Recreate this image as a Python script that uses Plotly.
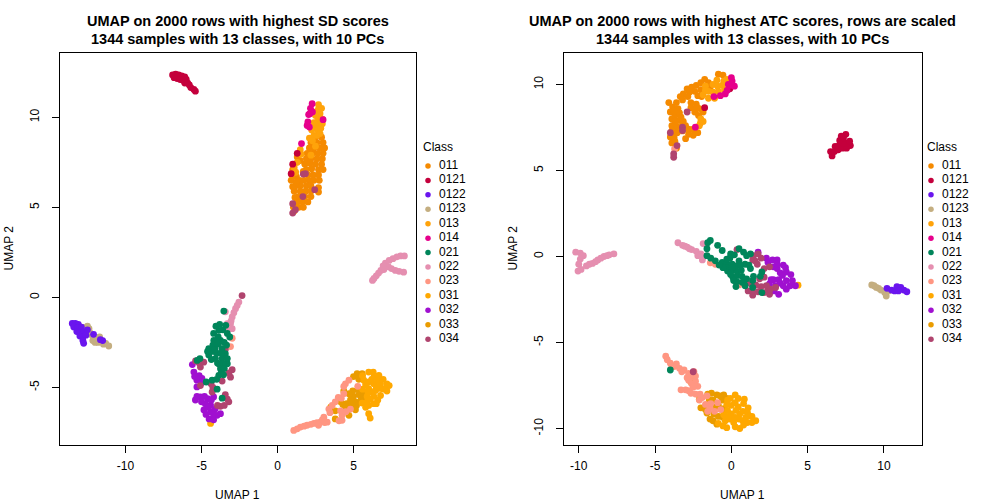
import plotly.graph_objects as go

CLASSES = ["011","0121","0122","0123","013","014","021","022","023","031","032","033","034"]
COLORS = ["#F58A00","#C4003C","#6A15EE","#C4AE80","#FFA30A","#E6008C","#00855A","#E58FB0","#FF9682","#FFA800","#A010D0","#EA9C00","#B0446E"]

# ---------- left panel values (UMAP 1, UMAP 2) ----------
L_011 = [(2.5,8.9),(2.9,8.9),(2.2,8.6),(2.6,8.6),(3.0,8.6),(2.1,8.3),(2.4,8.3),(2.8,8.3),(3.1,8.3),(1.95,8.0),(2.3,8.0),(2.65,8.0),(3.0,8.0),
 (1.9,7.7),(2.2,7.7),(2.6,7.7),(2.95,7.7),(1.8,7.4),(2.15,7.45),(2.5,7.4),(2.9,7.4),(1.9,7.1),(2.25,7.15),(2.7,7.1),(3.0,7.1),(2.0,6.8),(2.35,6.8),(2.7,6.8),(2.1,6.5),(2.4,6.5),(2.75,6.5),
 (1.2,6.2),(1.5,6.2),(1.9,6.2),(2.2,6.2),(2.7,6.1),(1.1,5.9),(1.5,5.9),(1.85,5.9),(2.2,5.9),(2.7,5.85),(1.4,5.6),(1.8,5.6),(2.2,5.6),(1.3,5.3),(1.65,5.3),(2.0,5.3),
 (1.05,5.0),(1.4,5.0),(1.7,5.0),(1.1,4.8),(1.3,7.8),(1.1,7.4),(1.0,7.1),(0.95,6.8),(0.9,6.5),(1.25,6.7),(1.5,7.6),(1.7,7.0),(1.45,6.5),(1.75,6.5),(1.0,6.15),(1.25,6.4),(1.6,5.55),(1.15,5.55)]
L_0121 = [(-6.9,12.35),(-6.7,12.4),(-6.5,12.35),(-6.3,12.3),(-6.1,12.25),(-6.8,12.2),(-6.6,12.15),(-6.4,12.1),(-6.2,12.05),(-6.0,12.1),(-6.1,11.9),(-5.9,11.9),(-5.8,11.8),(-5.7,11.65),(-5.5,11.55),(-5.4,11.45),
 (0.9,6.87),(1.0,7.4),(1.3,8.0)]
L_0122 = [(-13.5,-1.45),(-13.3,-1.45),(-13.1,-1.5),(-13.4,-1.65),(-13.15,-1.7),(-12.9,-1.65),(-13.2,-1.9),(-13.0,-1.95),(-12.75,-1.9),(-13.0,-2.15),(-12.8,-2.2),(-12.6,-2.1),(-12.8,-2.4),(-12.75,-2.55),(-11.5,-2.4),(-11.65,-2.35),(-12.1,-2.05)]
L_0123 = [(-12.76,-1.66),(-12.4,-1.73),(-12.5,-1.6),(-12.2,-2.1),(-12.0,-2.5),(-11.7,-2.2),(-11.8,-2.5),(-12.35,-1.95),(-11.3,-2.55),(-11.1,-2.7),(-11.9,-2.3),(-12.15,-2.4),(-11.45,-2.6)]
L_0122B = [(-12.5,-1.8)]
L_013 = [(2.7,10.7),(2.65,10.4),(2.8,10.2),(2.6,10.1),(2.7,9.9),(2.55,9.7),(2.75,9.6),(2.5,9.4),(2.65,9.3),(2.85,9.4),(2.4,9.0),(2.6,9.0),(2.3,8.7),(2.5,8.4),(1.5,8.2),(1.55,7.95),(1.3,7.5),(1.1,7.2),(1.2,6.95),(1.0,6.9),
 (2.9,10.5),(2.5,10.1),(2.95,9.9),(2.4,9.7),(2.8,9.1),(2.25,9.3),(2.1,8.85),(2.95,9.65),(2.2,7.9)]
L_014 = [(2.28,10.76),(2.17,10.5),(2.13,10.2),(2.3,10.3),(2.0,9.75),(2.1,9.46),(3.0,9.87),(1.58,8.54),(2.05,10.15),(1.95,9.55)]
L_021 = [(-3.53,-0.76),(-3.86,-1.83),(-4.19,-2.39),(-3.75,-2.39),(-3.3,-2.0),(-3.14,-2.2),(-4.52,-2.85),(-4.1,-2.85),(-3.64,-2.85),(-3.43,-3.13),(-4.08,-3.4),(-4.52,-3.2),(-3.64,-3.4),(-3.3,-3.68),(-3.75,-3.96),(-3.55,-3.7),(-3.86,-4.33),(-4.3,-4.6),(-4.69,-4.7),(-5.28,-3.5),(-3.97,-5.1),(-3.64,-5.6),(-4.2,-2.0),(-3.9,-2.6),(-3.5,-2.5),(-4.3,-3.0),(-4.0,-3.1),(-3.7,-3.1),(-3.85,-3.7),(-3.7,-4.2),(-3.9,-2.2),(-3.4,-1.55),(-3.8,-1.5),
 (-4.25,-2.65),(-3.95,-2.35),(-3.35,-2.65),(-4.35,-3.45),(-3.95,-3.65),(-3.5,-3.95),(-3.55,-4.3),(-4.0,-4.55),(-3.6,-1.8),(-4.05,-1.6),(-5.1,-3.4),(-4.15,-2.9),(-3.3,-3.4),(-4.6,-3.0)]
L_022 = [(6.25,0.94),(6.5,1.2),(6.8,1.5),(7.1,1.9),(7.6,2.15),(8.1,2.3),(8.35,2.3),(7.3,1.7),(7.75,1.5),(8.3,1.4),(7.35,2.05),(7.85,2.25),(7.0,1.55),(8.0,1.45),(6.35,1.05),(6.65,1.35),(7.5,1.6),(6.95,1.75),
 (-2.54,-0.26),(-2.76,-0.63),(-2.98,-1.09),(-3.09,-1.46),(-2.98,-1.74),(-3.43,-0.8),(-3.3,-1.46),(-2.87,-0.85),(-3.05,-1.3),(-2.65,-0.45),(-3.2,-1.7)]
L_023 = [(1.07,-7.39),(1.51,-7.2),(1.95,-7.1),(2.4,-7.0),(2.83,-6.93),(3.05,-6.65),(3.27,-6.93),(3.38,-6.2),(3.8,-5.8),(4.25,-6.55),(4.25,-6.83),(4.36,-5.35),(4.47,-4.8),(4.7,-4.6),(4.8,-6.2),(5.28,-4.94),(4.36,-4.95),(1.3,-7.3),(1.75,-7.15),(2.2,-7.05),(2.6,-6.95),(4.0,-5.55),(4.15,-6.3),
 (3.6,-6.0),(2.95,-6.8),(4.5,-6.35),(4.05,-6.85),(4.2,-5.6),(2.7,-7.1),(3.1,-6.95),(3.45,-6.4),
 (-3.09,-2.73),(-2.98,-2.27)]
L_031 = [(6.0,-4.15),(6.34,-4.43),(6.67,-4.33),(5.68,-4.6),(6.0,-4.7),(6.34,-4.8),(6.78,-4.8),(7.2,-4.8),(6.0,-5.07),(6.45,-5.17),(6.9,-5.07),(6.34,-5.5),(6.78,-5.45),(5.9,-5.8),(6.34,-5.9),(6.0,-6.46),(5.57,-5.87),(6.0,-6.0),(5.9,-5.5),(7.35,-4.9),(6.6,-4.6),(7.05,-5.1),(6.6,-5.7),
 (5.6,-4.35),(6.3,-4.15),(6.95,-4.55),(6.7,-5.05),(6.2,-5.25),(6.1,-5.65),(7.2,-5.2),(6.5,-4.95),(6.2,-4.55),(5.8,-4.85),(5.6,-5.1),(5.8,-6.1),(6.1,-6.7),(6.5,-5.9),(5.95,-5.25),
 (-4.4,-7.0)]
L_032 = [(-5.5,-4.15),(-5.3,-4.6),(-5.3,-4.97),(-4.97,-4.5),(-5.6,-3.73),(-5.07,-5.53),(-4.6,-5.63),(-4.2,-5.53),(-4.84,-6.25),(-4.4,-5.98),(-4.4,-6.35),(-3.97,-6.55),(-4.5,-6.75),(-3.75,-6.46),(-5.15,-4.35),(-4.75,-5.9),(-4.1,-6.2),(-4.2,-6.8),(-5.4,-5.7),
 (-5.45,-4.4),(-5.0,-4.75),(-5.3,-5.5),(-4.8,-5.5),(-4.55,-6.1),(-4.7,-6.5),(-4.2,-6.5),(-5.0,-5.8),(-4.35,-5.7)]
L_033 = [(4.36,-5.2),(3.5,-6.1),(3.8,-6.3),(3.8,-6.75),(4.7,-6.55),(4.15,-5.8),(4.3,-5.95),(5.0,-5.5),(5.68,-5.26),(5.35,-5.4),(5.13,-5.8),(4.8,-5.7),(5.13,-6.24),(5.46,-5.8),(5.24,-4.24),(5.57,-4.24),(5.8,-5.45),
 (4.95,-5.2),(5.3,-5.1),(4.55,-5.9),(5.5,-5.55),(5.2,-6.0),(4.5,-6.15),(4.9,-5.95),(5.35,-4.55),(5.0,-4.4),(5.65,-5.6),(4.7,-5.35)]
L_034 = [(1.84,6.87),(1.7,6.85),(2.45,5.98),(1.67,5.6),(1.0,5.2),(1.0,4.68),(1.18,4.87),
 (-2.33,0.1),(-5.39,-3.53),(-4.85,-3.6),(-5.07,-3.87),(-5.07,-4.9),(-4.37,-4.8),(-3.64,-4.65),(-3.09,-4.43),(-2.98,-4.02),(-4.3,-5.25),(-3.43,-5.4),(-3.2,-5.8),(-3.75,-6.05),(-3.43,-2.9),(-3.2,-4.2),(-4.25,-5.0),(-3.5,-6.0),(-5.15,-3.65),(-3.95,-6.0),(-3.3,-5.65)]

# ---------- right panel values ----------
R_011 = [(-2.0,10.1),(-2.3,9.95),(-2.6,9.85),(-2.0,9.7),(-2.4,9.6),(-2.9,9.75),(-3.15,9.45),(-3.35,9.3),(-3.2,9.1),(-3.6,8.95),(-4.1,8.95),(-3.85,8.7),(-3.5,8.6),(-4.0,8.4),(-3.7,8.2),(-3.4,8.35),(-2.65,8.95),(-2.3,8.85),(-2.1,8.6),(-1.85,8.4),(-2.4,8.4),(-3.9,8.0),(-3.5,7.9),(-3.15,7.85),(-3.9,7.6),(-3.6,7.55),(-3.3,7.5),(-3.9,7.3),(-3.55,7.2),(-3.2,7.3),(-2.8,7.4),(-2.5,7.4),(-2.8,7.1),(-2.5,7.05),(-3.0,6.85),(-4.0,6.95),(-3.9,6.6),(-3.7,6.7),(-3.6,6.3),(-0.85,10.6),(-0.55,10.55),(-1.5,10.1),(-1.4,9.75),
 (-2.75,9.55),(-1.75,10.3),(-3.75,8.45),(-2.2,7.2),(-3.7,7.85),(-3.0,7.6),(-2.65,8.65),(-2.15,8.2),(-1.95,9.3),(-2.2,9.35),(-2.85,9.3),(-3.3,8.1),(-3.2,7.7),(-3.75,6.95),(-2.25,8.65)]
R_0121 = [(6.6,5.85),(6.5,6.1),(6.75,6.1),(7.0,6.2),(6.8,6.4),(7.05,6.45),(7.3,6.3),(7.55,6.3),(7.8,6.45),(7.6,6.6),(7.3,6.6),(7.1,6.75),(7.35,6.9),(7.5,7.1),(7.2,7.0),(7.75,6.7),(-1.75,8.65),(-0.1,9.75)]
R_0122 = [(10.2,-1.85),(10.5,-1.95),(10.7,-2.0),(10.85,-1.75),(11.1,-1.8),(11.3,-1.95),(11.5,-2.05),(10.95,-2.0)]
R_0123 = [(9.2,-1.65),(9.5,-1.8),(9.8,-1.95),(10.05,-2.1),(10.15,-2.3),(10.3,-2.0),(9.35,-1.7),(9.65,-1.85)]
R_013 = [(-1.2,10.0),(-0.9,9.9),(-0.6,9.95),(-1.5,9.6),(-1.2,9.55),(-0.85,9.6),(-1.85,9.4),(-1.5,9.2),(-1.1,9.2),(-0.3,10.3),(-2.0,8.0),(-2.03,7.75),(-2.1,7.6),(-1.7,9.9),(-0.5,10.2),(-0.95,10.25),(-0.45,9.7),(-1.7,9.65),(-1.85,7.85)]
R_014 = [(0.05,10.2),(-0.07,9.95),(-0.28,9.65),(-0.4,9.45),(-0.72,9.35),(-1.14,9.3),(0.0,10.4),(-2.36,7.52),(0.2,9.9),(-0.2,10.0)]
R_021 = [(-1.38,0.93),(-1.55,0.8),(-0.9,0.65),(-0.6,0.35),(-1.6,0.45),(-1.6,0.05),(-1.05,-0.25),(-0.6,-0.35),(-0.3,-0.6),(-0.1,-0.1),(-0.3,-0.4),(0.05,-0.45),(-0.25,-0.85),(0.0,-0.85),(0.3,-0.55),(-0.35,-0.65),(0.1,-1.2),(0.4,-1.1),(0.7,-1.15),(0.35,-1.45),(0.7,-1.5),(1.0,-1.3),(0.15,-1.4),(0.81,-1.5),(1.15,-0.5),(0.9,-0.45),(1.25,-0.7),(0.5,0.45),(0.8,0.25),(1.25,0.15),(1.4,-1.4),(2.0,-0.9),(1.9,-1.15),(1.4,-1.8),(2.0,-2.1),(0.5,-0.25),(0.6,-0.5),
 (-0.3,-0.15),(-0.05,0.15),(0.2,0.1),(0.35,-0.85),(-0.05,-1.05),(0.05,-0.65),(-0.55,-0.65),(0.65,-0.8),(1.0,0.05),(1.45,-1.15),(0.9,-1.7),(0.3,-1.75),(-0.8,-0.5),(-1.35,-0.1)]
R_022 = [(-10.2,0.25),(-9.9,0.2),(-9.7,0.05),(-9.9,-0.15),(-10.0,-0.45),(-10.05,-0.85),(-9.85,-0.75),(-9.5,-0.55),(-9.1,-0.4),(-8.75,-0.2),(-8.35,0.0),(-8.0,0.1),(-7.7,0.15),(-9.3,-0.45),(-8.9,-0.3),(-8.55,-0.1),(-8.15,0.05),
 (-3.5,0.8),(-3.2,0.65),(-2.9,0.55),(-2.6,0.4),(-2.3,0.3),(-2.0,0.15),(-1.8,0.0),(-1.9,-0.2),(-2.2,0.05),(-1.85,0.75),(-2.75,0.45),(-3.05,0.6)]
R_023 = [(-4.3,-5.8),(-4.2,-6.0),(-4.0,-6.2),(-3.75,-6.4),(-3.4,-6.5),(-3.1,-6.6),(-2.8,-6.8),(-2.6,-7.0),(-2.8,-7.2),(-2.6,-7.4),(-2.35,-7.25),(-2.2,-7.55),(-2.5,-7.6),(-3.0,-7.75),(-3.3,-7.75),(-2.65,-7.95),(-2.35,-8.0),(-2.1,-8.35),(-1.9,-8.2),(-1.6,-8.1),(-1.7,-8.6),(-1.4,-8.8),(-1.1,-9.0),(-0.7,-8.9),(-0.9,-8.5),
 (-3.6,-6.25),(-2.45,-6.7),(-2.05,-8.0),(-1.35,-8.55),(-1.55,-9.0),(-3.9,-6.35),(-3.25,-6.7),(-2.9,-7.05),(-2.35,-6.95),(-2.8,-7.8),
 (-1.38,-0.37),(-1.05,-0.45),(0.5,-1.65),(-3.72,6.25)]
R_031 = [(-0.07,-8.25),(0.45,-8.25),(0.8,-8.55),(0.0,-8.65),(0.45,-8.75),(0.0,-9.15),(0.55,-9.15),(1.15,-9.25),(1.6,-9.55),(1.05,-9.65),(-0.3,-9.95),(0.55,-10.0),(-0.4,-9.55),(0.15,-9.65),(-0.5,-9.2),(1.1,-8.8),(0.8,-9.8),(-0.85,-9.7),
 (0.25,-8.05),(-0.3,-8.6),(0.75,-9.0),(1.35,-9.3),(0.5,-9.45),(-0.1,-9.45),(0.95,-9.35),(0.25,-9.9),(-0.55,-9.85),(0.3,-8.95),(-0.25,-8.95),(0.85,-8.3),(0.25,-8.5),(-0.25,-8.35),(0.75,-9.55),(0.25,-9.35),(-0.25,-9.3),(1.35,-9.65),(1.05,-9.05),
 (4.37,-1.67)]
R_032 = [(1.75,0.25),(2.3,-0.1),(2.7,-0.2),(3.0,-0.2),(3.4,-0.5),(2.75,-0.6),(3.6,-0.9),(3.9,-1.05),(2.75,-1.35),(3.1,-1.35),(3.6,-1.4),(4.0,-1.4),(3.6,-1.9),(3.1,-2.2),(4.2,-1.7),(3.2,-1.55),(2.5,-1.6),(3.0,-0.7),
 (2.4,-0.35),(3.2,-0.95),(3.35,-1.1),(2.9,-1.7),(3.4,-1.7),(3.85,-1.7),(2.8,-2.0),(3.0,-0.45),(3.55,-0.65),(2.6,-1.35)]
R_033 = [(-2.1,-8.3),(-1.55,-8.0),(-1.45,-8.35),(-2.0,-8.8),(-1.7,-8.9),(-1.2,-8.35),(-0.95,-8.05),(-0.5,-8.05),(-0.85,-8.65),(-0.5,-8.85),(-1.4,-9.45),(-0.95,-9.75),(-1.6,-9.1),(-2.65,-7.3),
 (-1.15,-9.15),(-0.85,-9.3),(-0.6,-8.35),(-1.05,-8.75),(-0.3,-8.25),(-1.2,-9.55),(-1.3,-7.95),(-0.75,-8.1),(-0.55,-9.35)]
R_034 = [(-3.78,5.77),(-3.78,5.97),(-3.2,7.52),(-3.2,7.32),(-2.9,8.4),(-3.56,6.45),(-4.0,7.2),
 (1.45,0.05),(1.75,0.15),(1.55,-0.25),(1.7,-0.45),(0.37,0.4),(2.5,-0.6),(2.15,-0.7),(2.15,-1.2),(1.85,-1.3),(1.0,-1.5),(1.3,-1.6),(1.1,-2.0),(1.4,-2.25),(1.75,-2.05),(2.4,-2.0),(2.5,-2.2),(2.9,-1.8),(2.15,-2.1),(-2.5,-6.7),
 (1.4,-0.2),(1.6,-1.65),(1.95,-1.75),(2.3,-1.7),(1.35,-2.0),(2.55,-1.9),(1.95,-0.1)]
R_021B = [(-4.0,-6.6)]

W, H = 1008, 504
LEFT_ORDER = [("011",L_011),("013",L_013),("0121",L_0121),("014",L_014),("0123",L_0123),("0122",L_0122),("0122",L_0122B),("022",L_022),("033",L_033),("031",L_031),("023",L_023),("032",L_032),("034",L_034),("021",L_021)]
RIGHT_ORDER = [("011",R_011),("013",R_013),("0121",R_0121),("014",R_014),("0123",R_0123),("0122",R_0122),("022",R_022),("033",R_033),("031",R_031),("023",R_023),("032",R_032),("034",R_034),("021",R_021),("021",R_021B)]
LEFT_TICKS_X = [-10,-5,0,5]
LEFT_TICKS_Y = [-5,0,5,10]
RIGHT_TICKS = [-10,-5,0,5,10]

fig = go.Figure()
col = dict(zip(CLASSES, COLORS))

def add_points(order, xa, ya):
    for name, pts in order:
        fig.add_trace(go.Scatter(x=[p[0] for p in pts], y=[p[1] for p in pts], mode="markers", name=name,
                                 xaxis=xa, yaxis=ya, showlegend=False,
                                 marker=dict(color=col[name], size=6.8, line=dict(width=0))))

def add_legend(xa, ya, dot_x, text_x):
    rows = list(range(len(CLASSES)))
    fig.add_trace(go.Scatter(x=[dot_x]*len(rows), y=rows, mode="markers", xaxis=xa, yaxis=ya, showlegend=False,
                             marker=dict(color=COLORS, size=5.5, line=dict(width=0))))
    fig.add_trace(go.Scatter(x=[text_x]*len(rows), y=rows, text=CLASSES, mode="text", textposition="middle right",
                             xaxis=xa, yaxis=ya, showlegend=False, cliponaxis=False,
                             textfont=dict(size=12, color="black")))
    fig.add_trace(go.Scatter(x=[0], y=[-1.25], text=["Class"], mode="text", textposition="middle right",
                             xaxis=xa, yaxis=ya, showlegend=False, cliponaxis=False,
                             textfont=dict(size=12, color="black")))

add_points(LEFT_ORDER, "x", "y")
add_points(RIGHT_ORDER, "x2", "y2")
add_legend("x3", "y3", 5, 16)
add_legend("x4", "y4", 4, 15)

axis = dict(showgrid=False, zeroline=False, showline=True, mirror=True, linecolor="black", linewidth=1,
            ticks="outside", ticklen=7, tickcolor="black", tickwidth=1, tickfont=dict(size=12, color="black"))
hidden = dict(visible=False, fixedrange=True)
def dx(a, b): return [a/W, b/W]
def dy(t, b): return [1-b/H, 1-t/H]
def labels(vals): return [str(v) for v in vals]

fig.update_layout(
    width=W, height=H, margin=dict(l=0, r=0, t=0, b=0), paper_bgcolor="white", plot_bgcolor="white",
    font=dict(family="Liberation Sans, Arial, sans-serif", size=12, color="black"),
    xaxis=dict(axis, domain=dx(59.5,415.5), range=[-14.34,9.08], tickvals=LEFT_TICKS_X, ticktext=labels(LEFT_TICKS_X), ticklabelstandoff=3),
    yaxis=dict(axis, domain=dy(52.5,444.5), range=[-8.17,13.6], tickvals=LEFT_TICKS_Y, ticktext=labels(LEFT_TICKS_Y), tickangle=-90, ticklabelstandoff=8),
    xaxis2=dict(axis, domain=dx(563.5,921.5), range=[-11.0,12.46], tickvals=RIGHT_TICKS, ticktext=labels(RIGHT_TICKS), anchor="y2", ticklabelstandoff=3),
    yaxis2=dict(axis, domain=dy(52.5,444.5), range=[-10.93,11.86], tickvals=RIGHT_TICKS, ticktext=labels(RIGHT_TICKS), tickangle=-90, anchor="x2", ticklabelstandoff=8),
    xaxis3=dict(hidden, domain=dx(423,503), range=[0,80], anchor="y3"),
    yaxis3=dict(hidden, domain=dy(137.1,353.6), range=[13,-2], anchor="x3"),
    xaxis4=dict(hidden, domain=dx(927,1007), range=[0,80], anchor="y4"),
    yaxis4=dict(hidden, domain=dy(137.1,353.6), range=[13,-2], anchor="x4"),
)

def note(text, px, py, size=12, bold=False, angle=0):
    fig.add_annotation(text=f"<b>{text}</b>" if bold else text, x=px/W, y=1-py/H, xref="paper", yref="paper",
                       showarrow=False, textangle=angle, xanchor="center", yanchor="middle",
                       font=dict(size=size, color="black"))

note("UMAP on 2000 rows with highest SD scores", 237.5, 21, 14.5, True)
note("1344 samples with 13 classes, with 10 PCs", 237.5, 39, 14.5, True)
note("UMAP on 2000 rows with highest ATC scores, rows are scaled", 742.5, 21, 14.5, True)
note("1344 samples with 13 classes, with 10 PCs", 742.5, 39, 14.5, True)
note("UMAP 1", 237.5, 495)
note("UMAP 1", 742.5, 495)
note("UMAP 2", 8, 248.5, angle=-90)
note("UMAP 2", 512, 248.5, angle=-90)

fig.write_html("out.html", config={"displayModeBar": False}, post_script="document.body.style.margin='0';")
